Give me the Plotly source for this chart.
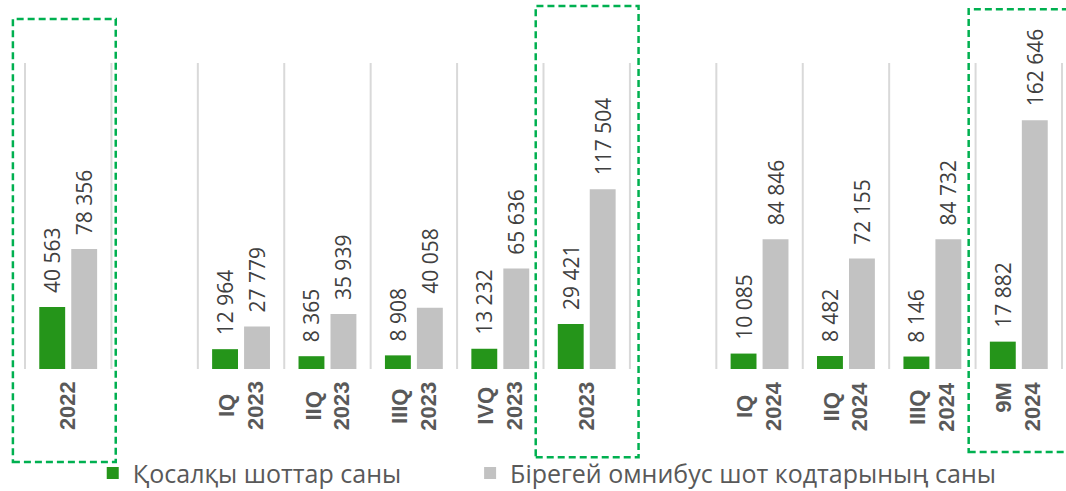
import plotly.graph_objects as go

# Periods (empty strings are spacer columns between year blocks)
categories = ["2022", "", "IQ<br>2023", "IIQ<br>2023", "IIIQ<br>2023", "IVQ<br>2023",
              "2023", "", "IQ<br>2024", "IIQ<br>2024", "IIIQ<br>2024", "9M<br>2024"]
sub_accounts = [40563, None, 12964, 8365, 8908, 13232, 29421, None, 10085, 8482, 8146, 17882]
omnibus_codes = [78356, None, 27779, 35939, 40058, 65636, 117504, None, 84846, 72155, 84732, 162646]

series_names = ["Қосалқы шоттар саны", "Бірегей омнибус шот кодтарының саны"]
highlighted = ["2022", "2023", "9M<br>2024"]

xs = list(range(len(categories)))
n = len(categories)

GREEN = "#25951A"
GREY = "#C2C2C2"
TEXT = "#404040"
LABEL = "#595959"
FONT = "Open Sans"

fig = go.Figure()
for vals, name, color, leg in [(sub_accounts, series_names[0], GREEN, "legend"),
                               (omnibus_codes, series_names[1], GREY, "legend2")]:
    fig.add_trace(go.Bar(
        x=xs, y=vals, name=name, legend=leg,
        marker=dict(color=color, line=dict(width=0)),
        texttemplate="\u00a0\u00a0%{y:,}",
        textposition="outside",
        textangle=-90,
        constraintext="none",
        textfont=dict(family=FONT, size=21, color=TEXT),
        cliponaxis=False,
        hoverinfo="skip",
    ))


def to_paper(v):
    """Convert an x data value to a paper fraction of the plot width."""
    return (v + 0.5) / n


shapes = []
# light vertical separators between columns
for k in range(n + 1):
    shapes.append(dict(type="line", xref="paper", yref="paper",
                       x0=to_paper(k - 0.5), x1=to_paper(k - 0.5), y0=0, y1=1,
                       line=dict(color="#D9D9D9", width=2), layer="below"))

# dashed frames around the annual totals
frame_extent = {
    "2022": (-0.64, 0.55, -0.304, 1.144),
    "2023": (-0.59, 0.60, -0.288, 1.186),
    "9M<br>2024": (-0.58, 0.62, -0.271, 1.176),
}
for cat in highlighted:
    i = categories.index(cat)
    dx0, dx1, y0, y1 = frame_extent[cat]
    shapes.append(dict(type="rect", xref="paper", yref="paper",
                       x0=to_paper(i + dx0), x1=to_paper(i + dx1), y0=y0, y1=y1,
                       line=dict(color="#00B050", width=2.5, dash="7px,4px"),
                       fillcolor="rgba(0,0,0,0)"))

annotations = []
for i, cat in enumerate(categories):
    if not cat:
        continue
    annotations.append(dict(
        x=i, y=-0.034, xref="x", yref="paper",
        xanchor="center", yanchor="top",
        text=cat, textangle=-90, showarrow=False,
        align="right" if cat.startswith("9M") else "center",
        font=dict(family="Liberation Sans", size=22, color=LABEL, weight="bold"),
    ))

legend_style = dict(orientation="h", xref="container", yref="container",
                    yanchor="middle", xanchor="left",
                    font=dict(family=FONT, size=25, color=LABEL),
                    bgcolor="rgba(0,0,0,0)",
                    itemclick=False, itemdoubleclick=False)

fig.update_layout(
    width=1066, height=491,
    margin=dict(l=25, r=4, t=63, b=122),
    paper_bgcolor="white", plot_bgcolor="white",
    barmode="group", bargap=0.26, bargroupgap=0.19,
    separators=". ",
    shapes=shapes, annotations=annotations,
    showlegend=True,
    legend=dict(x=0.087, y=0.036, **legend_style),
    legend2=dict(x=0.441, y=0.036, **legend_style),
    xaxis=dict(range=[-0.5, n - 0.5], showticklabels=False,
               showgrid=False, zeroline=False, showline=False, ticks=""),
    yaxis=dict(range=[0, 200000], visible=False, showgrid=False, zeroline=False),
)

fig.write_html("out.html")
